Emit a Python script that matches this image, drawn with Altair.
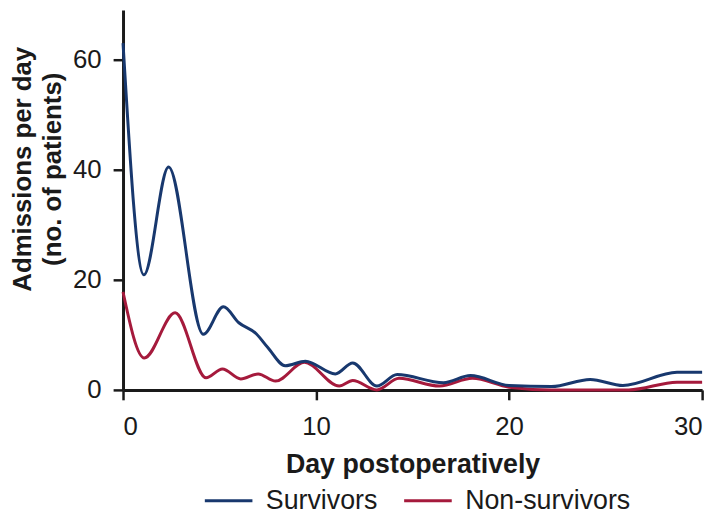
import altair as alt
import pandas as pd

# Survivors curve (day, admissions per day)
surv_day = [0, 1.08, 2.36, 4.16, 5.2, 6.0, 6.9, 7.5, 8.4, 9.45, 11.0, 11.9, 13.15, 14.2, 16.6, 18.0, 20.0, 22.2, 24.2, 25.9, 28.7, 30]
surv_val = [63, 20.9, 40.5, 10.1, 15.1, 12.2, 10.2, 7.7, 4.4, 5.2, 2.9, 4.9, 0.7, 2.8, 1.3, 2.6, 0.8, 0.6, 1.9, 0.8, 3.2, 3.2]

# Non-survivors curve
non_day = [0, 1.1, 2.7, 4.3, 5.15, 6.1, 7.0, 7.9, 9.4, 11.2, 11.9, 13.15, 14.3, 16.4, 18.1, 20.0, 22.2, 26.2, 28.7, 30]
non_val = [17.8, 5.8, 14.0, 2.2, 3.8, 2.0, 2.9, 1.6, 5.0, 0.7, 1.7, 0.0, 2.1, 0.7, 2.1, 0.5, 0.0, 0.0, 1.4, 1.4]

series = ["Survivors", "Non-survivors"]
colors = ["#18386e", "#a51a3c"]
x_ticks = [0, 10, 20, 30]
y_ticks = [0, 20, 40, 60]

df = pd.concat([
    pd.DataFrame({"day": non_day, "value": non_val, "series": series[1]}),
    pd.DataFrame({"day": surv_day, "value": surv_val, "series": series[0]}),
], ignore_index=True)

FONT = "Liberation Sans"
INK = "#1a1a1a"

chart = alt.Chart(df).mark_line(interpolate="monotone", strokeWidth=3).encode(
    x=alt.X("day:Q",
            scale=alt.Scale(domain=[0, 30], nice=False, zero=False),
            axis=alt.Axis(values=x_ticks, title="Day postoperatively",
                          labelPadding=14, titleY=62)),
    y=alt.Y("value:Q",
            scale=alt.Scale(domain=[0, 69], nice=False),
            axis=alt.Axis(values=y_ticks,
                          title=["Admissions per day", "(no. of patients)"],
                          labelPadding=12, titleX=-88, titleY=160,
                          titleFontSize=26,
                          titleLineHeight=30, titleAlign="center")),
    color=alt.Color("series:N",
                    scale=alt.Scale(domain=series, range=colors),
                    title=None,
                    legend=alt.Legend(orient="none", legendX=81, legendY=469,
                                      direction="horizontal",
                                      symbolType="stroke", symbolSize=2304,
                                      symbolStrokeWidth=3,
                                      labelFont=FONT, labelFontSize=27,
                                      labelColor=INK, labelOffset=12,
                                      labelLimit=400,
                                      columnPadding=20, padding=0)),
).properties(
    width=584, height=383,
    autosize=alt.AutoSizeParams(type="none"),
    padding={"left": 116, "top": 0, "right": 14, "bottom": 123},
).configure_view(
    stroke=None
).configure_axis(
    grid=False,
    domainColor=INK, domainWidth=3,
    tickColor=INK, tickWidth=2.5, tickSize=10,
    labelFont=FONT, labelFontSize=26, labelColor=INK,
    titleFont=FONT, titleFontSize=27, titleFontWeight="bold", titleColor=INK,
)

chart.save("out.html", embed_options={"renderer": "svg", "actions": False})
